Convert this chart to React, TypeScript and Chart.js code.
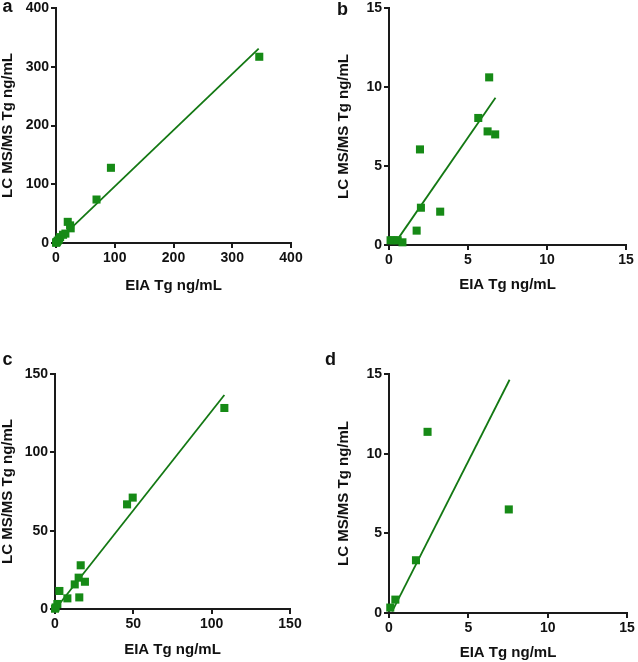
import React, { useEffect, useRef } from "react";
import { Chart, registerables } from "chart.js";

Chart.register(...registerables);

// ---------- data ----------
const aEia = [346, 93.5, 69, 20, 24, 25, 16, 12, 7, 5, 3, 1.5, 0.5, 0.2];
const aLcms = [317, 128, 74, 36, 30, 25, 16, 14, 10, 6, 4, 2, 1, 0.5];
const aFitEia = [0, 345];
const aFitLcms = [0.5, 331];
const aTicks = [0, 100, 200, 300, 400];

const bEia = [6.34, 5.65, 6.24, 6.72, 1.96, 2.02, 3.24, 1.75, 0.1, 0.3, 0.55, 0.85];
const bLcms = [10.61, 8.04, 7.19, 7.0, 6.05, 2.36, 2.11, 0.91, 0.3, 0.3, 0.3, 0.17];
const bFitEia = [0.4, 6.74];
const bFitLcms = [0.15, 9.32];
const bTicks = [0, 5, 10, 15];

const cEia = [108.1, 49.6, 46, 16.4, 19.1, 15.1, 12.6, 15.5, 7.9, 2.8, 1.5, 0.4, 0];
const cLcms = [128.3, 71.1, 66.8, 27.9, 17.4, 20, 15.7, 7.4, 6.8, 11.5, 3.2, 1, 0.2];
const cFitEia = [0.4, 108.1];
const cFitLcms = [0.2, 136.6];
const cTicks = [0, 50, 100, 150];

const dEia = [2.43, 7.55, 1.7, 0.4, 0.08];
const dLcms = [11.37, 6.5, 3.31, 0.84, 0.34];
const dFitEia = [0.2, 7.6];
const dFitLcms = [0.1, 14.64];
const dTicks = [0, 5, 10, 15];

const panelLetters = ["a", "b", "c", "d"];
const xTitle = "EIA Tg ng/mL";
const yTitle = "LC MS/MS Tg ng/mL";

// ---------- styles ----------
const FONT = '"Liberation Sans", Arial, Helvetica, sans-serif';
const POINT_COLOR = "#168a16";
const LINE_COLOR = "#137813";
const AXIS_COLOR = "#1a1a1a";
const TEXT_COLOR = "#111111";

type Panel = {
  x: number[];
  y: number[];
  fitX: number[];
  fitY: number[];
  ticks: number[];
  left: number;
  top: number;
  w: number;
  h: number;
  yAxisW: number;
  xAxisH: number;
  padRight: number;
  padTop: number;
  padBottom: number;
};

const panels: Panel[] = [
  { x: aEia, y: aLcms, fitX: aFitEia, fitY: aFitLcms, ticks: aTicks,
    left: 0, top: 0, w: 319, h: 329, yAxisW: 56, xAxisH: 50, padRight: 28, padTop: 8, padBottom: 36 },
  { x: bEia, y: bLcms, fitX: bFitEia, fitY: bFitLcms, ticks: bTicks,
    left: 336, top: 0, w: 302, h: 329, yAxisW: 53, xAxisH: 47.5, padRight: 12, padTop: 8, padBottom: 36.5 },
  { x: cEia, y: cLcms, fitX: cFitEia, fitY: cFitLcms, ticks: cTicks,
    left: 0, top: 330, w: 319, h: 332, yAxisW: 55, xAxisH: 48.5, padRight: 29, padTop: 44, padBottom: 4.5 },
  { x: dEia, y: dLcms, fitX: dFitEia, fitY: dFitLcms, ticks: dTicks,
    left: 336, top: 330, w: 302, h: 332, yAxisW: 53, xAxisH: 47.5, padRight: 11, padTop: 44, padBottom: 1.5 },
];

const letterPos = [
  { left: 2.5, top: -2.7 },
  { left: 337, top: -0.2 },
  { left: 2.5, top: 349.8 },
  { left: 325, top: 349.8 },
];

function axisCommon(p: Panel, title: string) {
  return {
    type: "linear" as const,
    min: p.ticks[0],
    max: p.ticks[p.ticks.length - 1],
    afterBuildTicks: (s: any) => {
      s.ticks = p.ticks.map((v) => ({ value: v }));
    },
    ticks: {
      font: { family: FONT, size: 14, weight: "bold" as const },
      color: TEXT_COLOR,
      padding: 2,
      maxRotation: 0,
      autoSkip: false,
    },
    grid: {
      drawOnChartArea: false,
      drawTicks: true,
      tickLength: 5,
      color: AXIS_COLOR,
      lineWidth: 2,
    },
    border: { display: true, color: AXIS_COLOR, width: 2 },
    title: {
      display: true,
      text: title,
      color: TEXT_COLOR,
      padding: 0,
      font: { family: FONT, size: 15, weight: "bold" as const, lineHeight: 1 },
    },
  };
}

function PanelChart({ p }: { p: Panel }) {
  const ref = useRef<HTMLCanvasElement | null>(null);
  useEffect(() => {
    if (!ref.current) return;
    const pts = p.x.map((v, i) => ({ x: v, y: p.y[i] }));
    const fit = p.fitX.map((v, i) => ({ x: v, y: p.fitY[i] }));
    const chart = new Chart(ref.current, {
      type: "scatter",
      data: {
        datasets: [
          {
            type: "line",
            data: fit,
            borderColor: LINE_COLOR,
            borderWidth: 1.8,
            pointRadius: 0,
            fill: false,
            clip: false,
            order: 1,
          } as any,
          {
            data: pts,
            pointStyle: "rect",
            pointRadius: 5.7,
            backgroundColor: POINT_COLOR,
            borderColor: POINT_COLOR,
            borderWidth: 0,
            clip: false,
            order: 0,
          } as any,
        ],
      },
      options: {
        responsive: false,
        animation: false,
        events: [],
        layout: { padding: { left: 0, right: p.padRight, top: p.padTop, bottom: p.padBottom } },
        plugins: { legend: { display: false }, tooltip: { enabled: false }, title: { display: false } },
        scales: {
          x: {
            ...axisCommon(p, xTitle),
            position: "bottom",
            afterFit: (s: any) => {
              s.height = p.xAxisH;
              s.paddingLeft = 0;
              s.paddingRight = 0;
            },
          },
          y: {
            ...axisCommon(p, yTitle),
            position: "left",
            afterFit: (s: any) => {
              s.width = p.yAxisW;
              s.paddingTop = 0;
              s.paddingBottom = 0;
            },
          },
        },
      } as any,
    });
    return () => chart.destroy();
  }, [p]);
  return (
    <canvas
      ref={ref}
      width={p.w}
      height={p.h}
      style={{ position: "absolute", left: p.left, top: p.top, width: p.w, height: p.h, display: "block" }}
    />
  );
}

export default function App() {
  return (
    <div
      style={{
        position: "absolute",
        left: 0,
        top: 0,
        width: 638,
        height: 662,
        background: "#ffffff",
        overflow: "hidden",
      }}
    >
      {panels.map((p, i) => (
        <PanelChart key={i} p={p} />
      ))}
      {panelLetters.map((t, i) => (
        <div
          key={t}
          style={{
            position: "absolute",
            left: letterPos[i].left,
            top: letterPos[i].top,
            fontFamily: FONT,
            fontWeight: "bold",
            fontSize: 18,
            lineHeight: "18px",
            color: TEXT_COLOR,
          }}
        >
          {t}
        </div>
      ))}
    </div>
  );
}
